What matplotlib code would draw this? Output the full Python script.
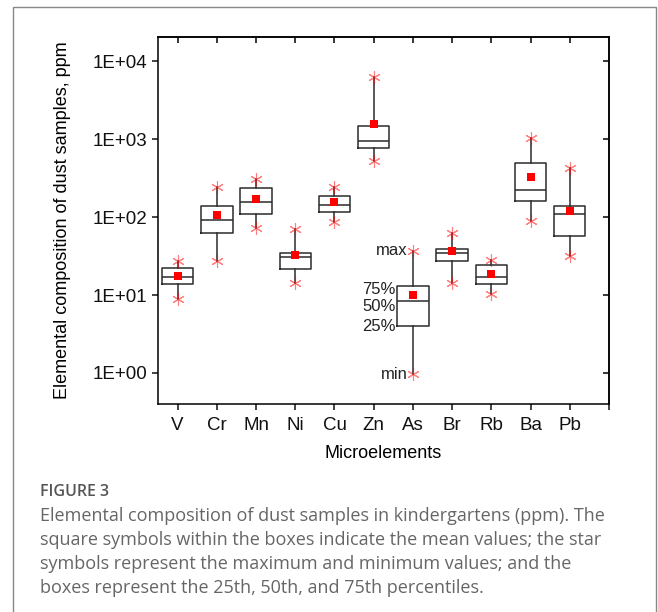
import numpy as np
import matplotlib
matplotlib.use("Agg")
import matplotlib.pyplot as plt
from matplotlib.patches import Rectangle
from matplotlib.ticker import FixedLocator, FuncFormatter, NullLocator

plt.rcParams['font.family'] = ['Liberation Sans', 'DejaVu Sans']

# data (ppm)
elements = ['V', 'Cr', 'Mn', 'Ni', 'Cu', 'Zn', 'As', 'Br', 'Rb', 'Ba', 'Pb']
v_min = [8.9, 27.3, 71.6, 14.1, 87, 518, 0.97, 14.1, 10.4, 90, 31.6]
v_q1 = [13.8, 63, 109, 21.8, 118, 767, 4.0, 27, 14.0, 159, 56.5]
v_med = [17.2, 90.6, 157, 31, 145, 962, 8.3, 34.5, 16.9, 222, 109]
v_q3 = [22, 140, 238, 34.5, 188, 1496, 12.9, 39.3, 24.0, 488, 140]
v_max = [27.5, 244, 313, 69.5, 244, 6300, 37, 61.8, 27.9, 1040, 425]
v_mean = [17.7, 105, 173, 32.3, 156, 1590, 9.9, 36.3, 18.6, 332, 119]

caption_title = "FIGURE 3"
caption_lines = [
    "Elemental composition of dust samples in kindergartens (ppm). The",
    "square symbols within the boxes indicate the mean values; the star",
    "symbols represent the maximum and minimum values; and the",
    "boxes represent the 25th, 50th, and 75th percentiles.",
]

W, H = 658, 612
fig = plt.figure(figsize=(W / 100, H / 100), dpi=100)
ax = fig.add_axes([158 / W, 1 - 404 / H, (609 - 158) / W, (404 - 37) / H])

pos = np.arange(1, len(elements) + 1)
stats = []
for i in range(len(elements)):
    stats.append({'whislo': v_min[i], 'q1': v_q1[i], 'med': v_med[i],
                  'q3': v_q3[i], 'whishi': v_max[i], 'label': elements[i]})

box_col = '#2b2b2b'
ax.bxp(stats, positions=pos, widths=0.8, showcaps=False, showfliers=False,
       boxprops=dict(color=box_col, linewidth=1.1),
       whiskerprops=dict(color=box_col, linewidth=1.1),
       medianprops=dict(color=box_col, linewidth=1.1))

# max / min stars and mean squares
ax.plot(pos, v_max, linestyle='none', marker=(6, 2, 0), markersize=9,
        color='red', alpha=0.5, markeredgewidth=0.8, zorder=4)
ax.plot(pos, v_min, linestyle='none', marker=(6, 2, 0), markersize=9,
        color='red', alpha=0.5, markeredgewidth=0.8, zorder=4)
ax.plot(pos, v_mean, linestyle='none', marker='s', markersize=6,
        color='red', markeredgewidth=0, zorder=5)

# legend-like labels beside As
k = elements.index('As')
notes = [('max', v_max[k], -5, 0), ('75%', v_q3[k], -17, -3),
         ('50%', v_med[k], -17, -5), ('25%', v_q1[k], -17, 0),
         ('min', v_min[k], -5, 0)]
for txt, val, dx, dy in notes:
    ax.annotate(txt, (pos[k], val), xytext=(dx, dy), textcoords='offset pixels',
                ha='right', va='center', fontsize=12, color='#222222')

ax.set_yscale('log')
ax.set_ylim(0.4, 2.05e4)
ax.set_xlim(0.5, 12)

yt = [1, 10, 100, 1000, 10000]
ax.yaxis.set_major_locator(FixedLocator(yt))
ax.yaxis.set_minor_locator(NullLocator())
ax.yaxis.set_major_formatter(FuncFormatter(lambda v, p: "1E+%02d" % int(round(np.log10(v)))))
ax.set_xticks(list(pos) + [12])
ax.set_xticklabels(elements + [''])

ax.tick_params(axis='y', direction='out', length=4.5, width=1.1, pad=3.5,
               labelsize=13.5, colors='#111111')
ax.tick_params(axis='x', direction='out', length=4.5, width=1.1, pad=5,
               labelsize=13.5, colors='#111111')

top = ax.secondary_xaxis('top')
top.set_xticks(pos)
top.tick_params(direction='in', length=4.5, width=1.1, labeltop=False)
right = ax.secondary_yaxis('right')
right.set_yticks(yt)
right.yaxis.set_minor_locator(NullLocator())
right.tick_params(direction='in', length=4.5, width=1.1, labelright=False)
for a in (ax, top, right):
    for s in a.spines.values():
        s.set_linewidth(1.1)

ax.set_ylabel('Elemental composition of dust samples, ppm', fontsize=13)
ax.yaxis.set_label_coords(-0.193, 0.5)
ax.set_xlabel('Microelements', fontsize=13)
ax.xaxis.set_label_coords(0.5, -0.112)

# frame and caption
fig.patches.append(Rectangle((13 / W, -0.02), (656 - 13) / W, 1.02 - 7 / H,
                             transform=fig.transFigure, fill=False,
                             edgecolor='#888888', linewidth=1.0))
fig.text(40 / W, 1 - 492 / H, caption_title, fontsize=11.5, color='#555555',
         family=['Open Sans', 'DejaVu Sans'], weight='semibold', va='center')
for j, line in enumerate(caption_lines):
    fig.text(40 / W, 1 - (516 + 24 * j) / H, line, fontsize=13, color='#666666',
             family=['Open Sans', 'DejaVu Sans'], va='center')

fig.savefig('out.png', dpi=100)
